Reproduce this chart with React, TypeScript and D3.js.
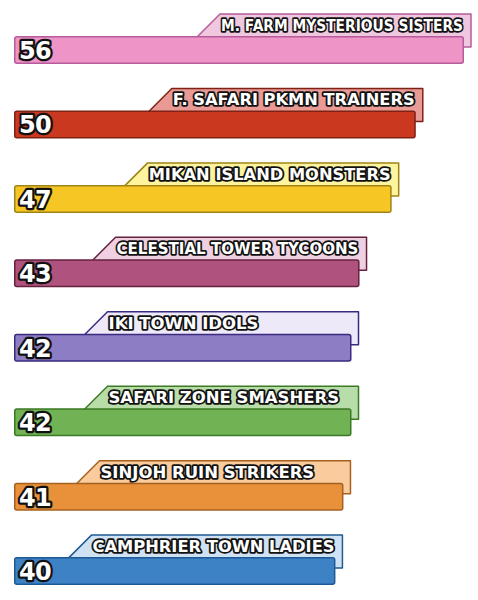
import { useEffect, useRef } from 'react';
import * as d3 from 'd3';

const TEAMS = [
  'M. FARM MYSTERIOUS SISTERS',
  'F. SAFARI PKMN TRAINERS',
  'MIKAN ISLAND MONSTERS',
  'CELESTIAL TOWER TYCOONS',
  'IKI TOWN IDOLS',
  'SAFARI ZONE SMASHERS',
  'SINJOH RUIN STRIKERS',
  'CAMPHRIER TOWN LADIES',
];
const SCORES = [56, 50, 47, 43, 42, 42, 41, 40];
const FILLS = ['#EE94C6', '#C9381F', '#F6C624', '#B0527E', '#8C7DC5', '#70B254', '#E8913A', '#3E82C6'];
const STROKES = ['#B65C9C', '#7E2215', '#9E8416', '#66213F', '#3B2A80', '#3B7A25', '#A5611F', '#205A95'];
const TABS = ['#EFC7DE', '#E99A94', '#FEF49E', '#EFD0E2', '#EEE9F9', '#B9DDA8', '#FACB9C', '#CFE2F4'];

const W = 478;
const H = 600;
const BAR_H = 28;
const TAB_UP = 22;
const STRETCH = 1.1;
const LABEL_MAX = 242;

export default function App() {
  const svgRef = useRef<SVGSVGElement>(null);
  const x = d3.scaleLinear().domain([0, d3.max(SCORES) as number]).range([14, 464]);
  const y = d3.scaleBand<string>().domain(TEAMS).range([14, 585]).paddingInner(0.33).paddingOuter(0);

  // widen labels a bit, but squeeze any that wouldn't fit inside their tab
  useEffect(() => {
    if (!svgRef.current) return;
    d3.select(svgRef.current).selectAll<SVGTextElement, unknown>('text.label').each(function () {
      const len = this.getComputedTextLength();
      const sx = Math.min(STRETCH, LABEL_MAX / len);
      const g = d3.select(this);
      g.attr('transform', `translate(${g.attr('data-x')},${g.attr('data-y')}) scale(${sx},1)`);
    });
  }, []);

  return (
    <svg ref={svgRef} width={W} height={H} style={{ position: 'absolute', left: 0, top: 0, background: '#fff' }}>
      {TEAMS.map((t, i) => {
        const top = (y(t) as number) + TAB_UP; // bar top
        const r = x(SCORES[i]);
        const tab = `M${r - 277},${top + 11} L${r - 244},${top - TAB_UP} L${r + 7},${top - TAB_UP} L${r + 7},${top + 11} Z`;
        return (
          <g key={t}>
            <path d={tab} fill={TABS[i]} stroke={STROKES[i]} strokeWidth={1.5} strokeLinejoin="round" />
            <text
              className="label"
              data-x={r - 243}
              data-y={top - 5}
              transform={`translate(${r - 243},${top - 5}) scale(${STRETCH},1)`}
              fontFamily="'DejaVu Sans', sans-serif"
              fontWeight={700}
              fontSize={15}
              fill="#fff"
              stroke="#111"
              strokeWidth={3.4}
              strokeLinejoin="round"
              paintOrder="stroke"
            >
              {t}
            </text>
            <rect
              x={x(0) + 0.75}
              y={top + 0.75}
              width={r - x(0) - 1.5}
              height={BAR_H - 1.5}
              rx={2}
              fill={FILLS[i]}
              stroke={STROKES[i]}
              strokeWidth={1.5}
            />
            <text
              x={19}
              y={top + 23}
              fontFamily="'DejaVu Sans', sans-serif"
              fontWeight={700}
              fontSize={24}
              letterSpacing={-0.8}
              fill="#fff"
              stroke="#111"
              strokeWidth={4.5}
              strokeLinejoin="round"
              paintOrder="stroke"
            >
              {SCORES[i]}
            </text>
          </g>
        );
      })}
    </svg>
  );
}
